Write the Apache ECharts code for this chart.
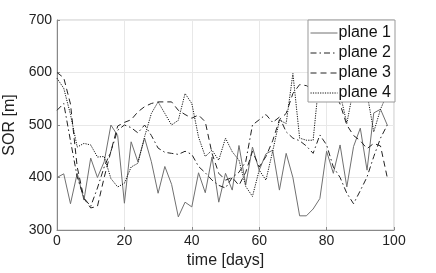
<!DOCTYPE html>
<html><head><meta charset="utf-8">
<script src="https://cdn.jsdelivr.net/npm/echarts@6/dist/echarts.min.js"></script>
<style>html,body{margin:0;padding:0;background:#fff}#c{width:436px;height:273px}</style>
</head><body><div id="c"></div>
<script>
const days = [0,2,4,6,8,10,12,14,16,18,20,22,24,26,28,30,32,34,36,38,40,42,44,46,48,50,52,54,56,58,60,62,64,66,68,70,72,74,76,78,80,82,84,86,88,90,92,94,96,98];
const plane1 = [400,407,350,408,357,437,400,430,500,480,351,468,430,475,430,370,421,387,325,353,344,409,371,439,353,408,376,461,386,458,414,445,452,376,446,400,327,327,340,360,450,408,462,382,459,494,414,523,530,500];
const plane2 = [528,541,470,401,361,345,380,420,450,490,500,495,485,500,480,456,448,446,444,450,444,421,409,395,385,380,400,410,430,500,510,520,505,515,487,475,470,460,446,481,462,420,400,370,350,375,401,440,475,500];
const plane3 = [600,590,540,420,360,342,345,400,450,498,505,510,525,535,541,544,544,544,528,520,513,519,506,446,408,395,400,385,410,450,420,440,470,510,522,560,577,575,567,570,570,565,540,500,480,470,455,465,460,400];
const plane4 = [589,570,520,458,465,462,439,440,398,382,389,420,427,478,522,544,522,500,509,560,541,477,440,452,433,475,449,433,383,364,414,395,450,509,503,598,475,471,471,600,610,590,560,503,570,600,560,487,530,560];
const names = ['plane 1','plane 2','plane 3','plane 4'];
const xTicks = [0,20,40,60,80,100];
const yTicks = [300,400,500,600,700];

const seriesVals = [plane1, plane2, plane3, plane4];
const styles = [
  {color:'#707070', type:'solid'},
  {color:'#222', type:[6,3,1.5,3]},
  {color:'#222', type:[6,4]},
  {color:'#111', type:[1.2,1.2]}
];
const font = 'Liberation Sans, Arial, sans-serif';
const chart = echarts.init(document.getElementById('c'), null, {renderer:'canvas'});
chart.setOption({
  animation:false,
  grid:{left:57, right:42, top:20, bottom:43, show:true, borderColor:'#c8c8c8', borderWidth:1, outerBoundsMode:'none', containLabel:false},
  xAxis:{type:'value', min:xTicks[0], max:xTicks[xTicks.length-1], interval:20,
    name:'time [days]', nameLocation:'middle', nameGap:23,
    nameTextStyle:{fontFamily:font, fontSize:16, color:'#222'},
    axisLine:{show:true, lineStyle:{color:'#888'}},
    axisTick:{show:true, inside:true, length:3, lineStyle:{color:'#888'}},
    axisLabel:{fontFamily:font, fontSize:14, color:'#222', margin:4},
    splitLine:{show:true, lineStyle:{color:'#e8e8e8'}}},
  yAxis:{type:'value', min:yTicks[0], max:yTicks[yTicks.length-1], interval:100,
    name:'SOR [m]', nameLocation:'middle', nameGap:37,
    nameTextStyle:{fontFamily:font, fontSize:16, color:'#222'},
    axisLine:{show:true, lineStyle:{color:'#888'}},
    axisTick:{show:true, inside:true, length:3, lineStyle:{color:'#888'}},
    axisLabel:{fontFamily:font, fontSize:14, color:'#222', margin:5},
    splitLine:{show:true, lineStyle:{color:'#e8e8e8'}}},
  legend:{show:true, right:41, top:20, orient:'vertical',
    backgroundColor:'#fff', borderColor:'#999', borderWidth:1, borderRadius:0,
    padding:[5,4,1,2], itemGap:4, itemWidth:27, itemHeight:16,
    itemStyle:{opacity:0},
    lineStyle:{width:1},
    textStyle:{fontFamily:font, fontSize:16, color:'#111', padding:[0,0,0,-4]},
    data:names},
  series: seriesVals.map((vals,i)=>({
    name:names[i], type:'line', symbol:'none', showSymbol:false,
    data: days.map((d,k)=>[d, vals[k]]),
    lineStyle:{width:1, color:styles[i].color, type:styles[i].type},
    itemStyle:{color:styles[i].color}
  }))
});
</script></body></html>
